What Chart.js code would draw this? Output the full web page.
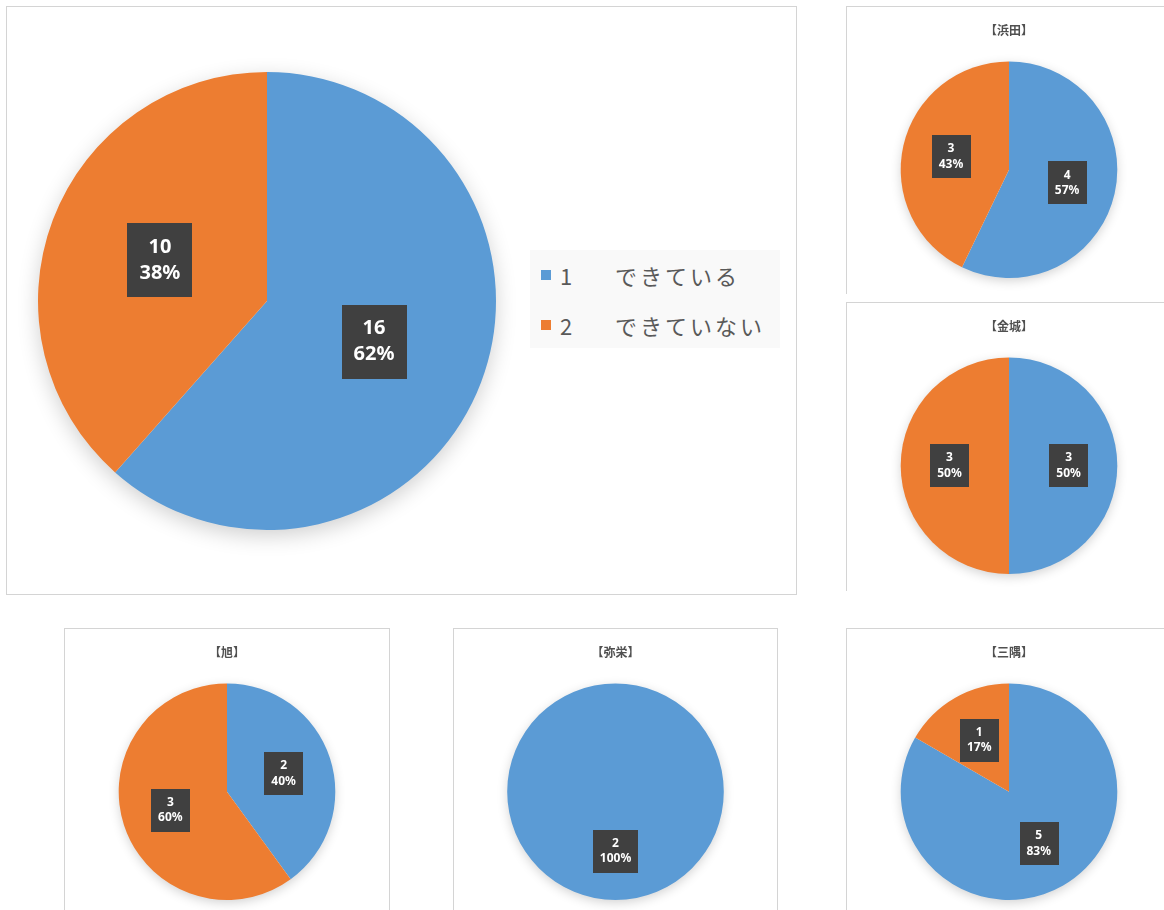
<!DOCTYPE html>
<html><head><meta charset="utf-8">
<script src="https://cdn.jsdelivr.net/npm/chart.js@4"></script>
<style>
html,body{margin:0;padding:0;background:#fff;overflow:hidden;width:1164px;height:910px;}
.box{position:absolute;box-sizing:border-box;border:1px solid #d4d4d4;background:#fff;overflow:hidden;}
.box canvas{position:absolute;left:0;top:0;}
#legend{position:absolute;left:530px;top:250px;width:250px;height:98px;background:#f9f9f9;font-family:"Noto Sans CJK JP","Noto Sans",sans-serif;color:#595959;font-size:22px;}
.lrow{position:absolute;left:0;height:30px;line-height:30px;white-space:nowrap;}
.lsw{position:absolute;left:11px;top:10px;width:10px;height:10px;}
.lnum{position:absolute;left:30px;top:0;}
.ltxt{position:absolute;left:85px;top:0;letter-spacing:3px;}
</style></head><body>
<script>
// ---- data ----
const categories = ["1　できている", "2　できていない"];
const colors = ["#5B9BD5", "#ED7D31"];
const totalValues = [16, 10];
const areaTitles = ["【浜田】", "【金城】", "【旭】", "【弥栄】", "【三隅】"];
const hamadaValues = [4, 3];
const kanagiValues = [3, 3];
const asahiValues = [2, 3];
const yasakaValues = [2, 0];
const misumiValues = [5, 1];

// ---- plugins ----
const shadowPlugin = {
  id: 'pieShadow',
  beforeDatasetsDraw(chart) {
    const meta = chart.getDatasetMeta(0);
    const a = meta.data.find(e => e);
    if (!a) return;
    const ctx = chart.ctx;
    ctx.save();
    ctx.shadowColor = 'rgba(0,0,0,0.2)';
    ctx.shadowBlur = chart.options.plugins.pieShadow.blur;
    ctx.shadowOffsetY = chart.options.plugins.pieShadow.offset;
    ctx.fillStyle = '#ffffff';
    ctx.beginPath();
    ctx.arc(a.x, a.y, a.outerRadius - 1, 0, Math.PI * 2);
    ctx.fill();
    ctx.restore();
  }
};
const labelPlugin = {
  id: 'boxLabels',
  afterDatasetsDraw(chart) {
    const o = chart.options.plugins.boxLabels;
    const ds = chart.data.datasets[0];
    const vals = ds.data;
    const total = vals.reduce((s, v) => s + v, 0);
    const meta = chart.getDatasetMeta(0);
    const ctx = chart.ctx;
    meta.data.forEach((arc, i) => {
      const v = vals[i];
      if (!v) return;
      const p = arc.getProps(['x', 'y', 'startAngle', 'endAngle', 'outerRadius'], true);
      const mid = (p.startAngle + p.endAngle) / 2;
      const r = p.outerRadius * o.factor;
      const cx = p.x + Math.cos(mid) * r, cy = p.y + Math.sin(mid) * r;
      const l1 = String(v), l2 = Math.round(v / total * 100) + '%';
      ctx.save();
      ctx.font = 'bold ' + o.size + 'px "Noto Sans","Open Sans",sans-serif';
      const w = Math.max(ctx.measureText(l1).width, ctx.measureText(l2).width) + o.padX * 2;
      const lh = o.size * 1.3;
      const h = lh * 2 + o.padY * 2;
      ctx.fillStyle = '#404040';
      ctx.fillRect(Math.round(cx - w / 2), Math.round(cy - h / 2), Math.round(w), Math.round(h));
      ctx.fillStyle = '#ffffff';
      ctx.textAlign = 'center';
      ctx.textBaseline = 'middle';
      ctx.fillText(l1, cx, cy - lh / 2);
      ctx.fillText(l2, cx, cy + lh / 2);
      ctx.restore();
    });
  }
};

function makeBox(left, top, width, height, noBottom) {
  const d = document.createElement('div');
  d.className = 'box';
  d.style.left = left + 'px'; d.style.top = top + 'px';
  d.style.width = width + 'px'; d.style.height = height + 'px';
  if (noBottom) d.style.borderBottom = 'none';
  document.body.appendChild(d);
  const c = document.createElement('canvas');
  d.appendChild(c);
  return c;
}

function pieChart(canvas, w, h, values, title, padding, label, shadow) {
  canvas.width = w; canvas.height = h;
  canvas.style.width = w + 'px'; canvas.style.height = h + 'px';
  return new Chart(canvas, {
    type: 'pie',
    data: { labels: categories, datasets: [{ data: values, backgroundColor: colors, borderWidth: 0 }] },
    options: {
      responsive: false, animation: false,
      layout: { padding },
      plugins: {
        legend: { display: false },
        tooltip: { enabled: false },
        title: title ? {
          display: true, text: title, color: '#505050',
          font: { family: '"Noto Sans CJK JP",sans-serif', size: 12, weight: 'bold', lineHeight: 1.2 },
          padding: { top: 16, bottom: 24 }
        } : { display: false },
        boxLabels: label,
        pieShadow: shadow
      }
    },
    plugins: [shadowPlugin, labelPlugin]
  });
}

// main chart
const mainCanvas = makeBox(6, 6, 791, 589, false);
pieChart(mainCanvas, 789, 587, totalValues, null,
  { left: 31, right: 300, top: 65, bottom: 64 },
  { factor: 0.5, size: 20, padX: 12, padY: 11 }, { blur: 22, offset: 6 });

// legend (HTML text)
const lg = document.createElement('div');
lg.id = 'legend';
categories.forEach((c, i) => {
  const parts = c.split('　');
  const row = document.createElement('div');
  row.className = 'lrow';
  row.style.top = (10 + i * 50) + 'px';
  row.innerHTML = '<span class="lsw" style="background:' + colors[i] + '"></span>' +
    '<span class="lnum">' + parts[0] + '</span><span class="ltxt">' + parts[1] + '</span>';
  lg.appendChild(row);
});
document.body.appendChild(lg);

// small charts
const smallPad = { left: 0, right: 0, top: 0, bottom: 17 };
const smallLabel = { factor: 0.55, size: 12, padX: 7, padY: 6 };
const smallShadow = { blur: 12, offset: 3 };
const smalls = [
  [846, 6, 326, 288, true, hamadaValues, areaTitles[0]],
  [846, 302, 326, 289, true, kanagiValues, areaTitles[1]],
  [64, 628, 326, 300, false, asahiValues, areaTitles[2]],
  [453, 628, 325, 300, false, yasakaValues, areaTitles[3]],
  [846, 628, 326, 300, false, misumiValues, areaTitles[4]]
];
smalls.forEach(s => {
  const c = makeBox(s[0], s[1], s[2], s[3], s[4]);
  pieChart(c, s[2] - 2, 288, s[5], s[6], smallPad, smallLabel, smallShadow);
});
</script>
</body></html>
